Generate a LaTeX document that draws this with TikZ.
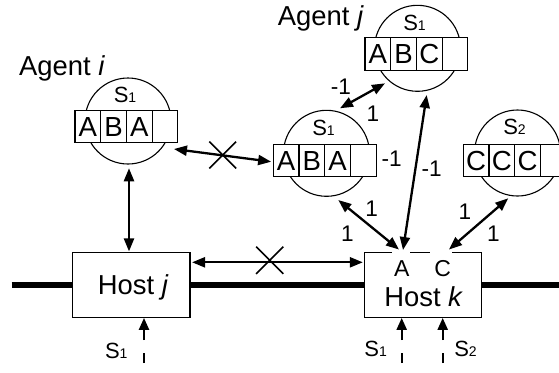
\documentclass[tikz,border=0pt]{standalone}
\usepackage{fontspec}
\setmainfont{Liberation Sans}
\usetikzlibrary{arrows.meta,calc}
\newcommand{\fsz}[1]{\fontsize{#1}{#1}\selectfont}
\newcommand{\subone}[1]{{\fsz{7pt}#1}}
% #1 last cell width (px), #2 name, #3 circle centre, #4 box left-centre, #5 label, #6-#8 letters
\newcommand{\agentnode}[8][25.7]{%
  \node[agentcirc] (#2) at #3 {};
  \node[slbl] (#2lbl) at ($(#2.center)+(-3,-18.3)$) {#5};
  \coordinate (#2box) at #4;
  \node[cell] (#2c1) at ($(#2box)+(12.85,0)$) {#6};
  \node[cell] (#2c2) at ($(#2box)+(38.55,0)$) {#7};
  \node[cell] (#2c3) at ($(#2box)+(64.25,0)$) {#8};
  \node[cell,minimum width={#1*0.5pt}] (#2c4) at ($(#2box)+(77.1+#1/2,0)$) {};
}
\begin{document}
\begin{tikzpicture}[x=0.5pt,y=-0.5pt,
  agentcirc/.style={circle,draw,line width=0.55pt,minimum size=43pt,inner sep=0pt},
  cell/.style={draw,fill=white,line width=0.55pt,minimum width=12.85pt,minimum height=16.35pt,inner sep=0pt,font=\fsz{13.8pt}},
  host/.style={draw,fill=white,line width=0.6pt,minimum width=58.65pt,minimum height=32.3pt,inner sep=0pt},
  link/.style={line width=1.15pt,{Triangle[length=6.5pt,width=5pt]}-{Triangle[length=6.5pt,width=5pt]}},
  inlink/.style={line width=1.15pt,-{Triangle[length=6pt,width=5pt]},dash pattern=on 5pt off 6.5pt on 20pt off 0pt},
  num/.style={font=\fsz{11.3pt},inner sep=0pt},
  lbl/.style={font=\fsz{13.7pt},inner sep=0pt,anchor=base},
  slbl/.style={font=\fsz{11pt},inner sep=0pt,anchor=base},
  cross/.style={line width=0.8pt},
  bus/.style={line width=3pt}
]
\useasboundingbox (0,0) rectangle (559,372);
\clip (0,0) rectangle (559,372);
% bus
\coordinate (busl) at (11.7,285);
\coordinate (busr) at (562,285);
\draw[bus] (busl) -- (busr);
% hosts
\node[host] (hj) at (131.3,285) {};
\node[host] (hk) at (422.8,285) {};
\node[lbl] (hjt) at (133.3,294.3) {Host \textit{j}};
\node[lbl] (hkt) at (423.7,306.7) {Host \textit{k}};
\node[lbl,font=\fsz{11.5pt}] (hka) at (401.8,276.7) {A};
\node[lbl,font=\fsz{11.5pt}] (hkc) at (442.8,276.7) {C};
\fill[white] ($(hk.north)+(-31.1,-1.8)$) rectangle ($(hk.north)+(-12.8,1.8)$);
\fill[white] ($(hk.north)+(7.2,-1.8)$) rectangle ($(hk.north)+(29.2,1.8)$);
% agents
\agentnode{ai}{(128,121)}{(75,126.5)}{S\subone{1}}{A}{B}{A}
\agentnode{aj}{(417.5,48.3)}{(365,53.7)}{S\subone{1}}{A}{B}{C}
\agentnode{ak}{(326.5,153.3)}{(273.3,160.5)}{S\subone{1}}{A}{B}{A}
\agentnode{bk}{(517.5,153)}{(463.3,160.5)}{S\subone{2}}{C}{C}{C}
% agent labels
\node[lbl] (lai) at (62,75) {Agent \textit{i}};
\node[lbl] (laj) at (320.8,25.7) {Agent \textit{j}};
% connectors
\draw[link] ($(ai.south)+(1,3.7)$) -- ($(hj.north)+(-2.3,-0.7)$);
\draw[link] ($(aic4.south east)+(-4.4,5.6)$) -- ($(akc1.west)+(-1.6,1.2)$);
\draw[link] ($(hj.east)+(1.5,-22.7)$) -- ($(hk.west)+(-0.7,-22.7)$);
\draw[link] ($(aj.center)+(-32.5,35)$) -- ($(ak.center)+(13.5,-45)$);
\draw[link] ($(aj.center)+(9.2,46.7)$) -- ($(hk.center)+(-19.8,-35)$);
\draw[link] ($(ak.center)+(11.8,46.7)$) -- ($(hk.center)+(-23.8,-35.5)$);
\draw[link] ($(bk.center)+(-9.2,45.3)$) -- ($(hk.center)+(26.2,-35.5)$);
% crosses
\coordinate (x1) at (222.7,155);
\coordinate (x2) at (269.7,260.3);
\draw[cross] ($(x1)+(-13.4,-13.4)$) -- ($(x1)+(13.4,13.4)$);
\draw[cross] ($(x1)+(-13.4,13.4)$) -- ($(x1)+(13.4,-13.4)$);
\draw[cross] ($(x2)+(-13.6,-13.6)$) -- ($(x2)+(13.6,13.6)$);
\draw[cross] ($(x2)+(-13.6,13.6)$) -- ($(x2)+(13.6,-13.6)$);
% incoming streams
\coordinate (sj) at (144,363);
\coordinate (sk1) at (401.7,363);
\coordinate (sk2) at (442.7,363);
\draw[inlink] (sj) -- (sj |- hj.south);
\draw[inlink] (sk1) -- (sk1 |- hk.south);
\draw[inlink] (sk2) -- (sk2 |- hk.south);
\node[slbl] (ls1) at (116.3,358.3) {S\subone{1}};
\node[slbl] (ls2) at (375.7,356.7) {S\subone{1}};
\node[slbl] (ls3) at (465.5,356.7) {S\subone{2}};
% weights
\node[num] (w1) at (341,86.7) {-1};
\node[num] (w2) at (373,114) {1};
\node[num] (w3) at (391.7,158.3) {-1};
\node[num] (w4) at (431.7,168.3) {-1};
\node[num] (w5) at (371.7,208.3) {1};
\node[num] (w6) at (347.5,234) {1};
\node[num] (w7) at (465,211.7) {1};
\node[num] (w8) at (493.3,234) {1};
\end{tikzpicture}
\end{document}
